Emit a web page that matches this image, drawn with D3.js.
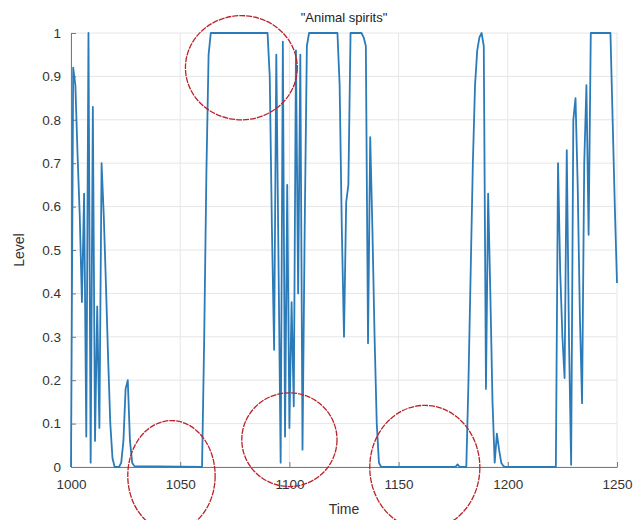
<!DOCTYPE html>
<html><head><meta charset="utf-8">
<script src="https://cdn.jsdelivr.net/npm/d3@7"></script>
<style>body{margin:0;background:#fff}svg{display:block}</style>
</head><body>
<svg id="c" width="638" height="520"></svg>
<script>
const times  = [1000,1001,1002,1003,1004,1005,1006,1007,1008,1009,1010,1011,1012,1013,1014,1015,1016,1017,1018,1019,1020,1021,1022,1023,1024,1025,1026,1027,1028,1029,
  1060,1061,1062,1063,1064,1090,1091,1092,1093,1094,1095,1096,1097,1098,1099,1100,1101,1102,1103,1104,1105,1106,1107,1108,1109,
  1122,1123,1124,1125,1126,1127,1128,1133,1134,1135,1136,1137,1138,1139,1140,1141,1142,
  1176,1177,1178,1181,1182,1183,1184,1185,1186,1187,1188,1189,1190,1191,1192,1193,1194,1195,1196,1197,1198,1199,
  1222,1223,1224,1225,1226,1227,1228,1229,1230,1231,1232,1233,1234,1235,1236,1237,1238,1247,1248,1249,1250];
const levels = [0.0,0.92,0.88,0.72,0.58,0.38,0.63,0.07,1.0,0.01,0.83,0.06,0.37,0.09,0.70,0.58,0.42,0.25,0.10,0.02,0.0,0.0,0.0,0.01,0.06,0.18,0.20,0.06,0.01,0.002,
  0.0,0.3,0.68,0.95,1.0,1.0,0.9,0.55,0.27,0.95,0.48,0.01,0.98,0.07,0.65,0.09,0.38,0.14,0.96,0.40,0.95,0.04,0.55,0.97,1.0,
  1.0,0.88,0.55,0.30,0.61,0.65,1.0,1.0,0.99,0.97,0.285,0.76,0.55,0.3,0.1,0.01,0.0,
  0.0,0.006,0.0,0.0,0.2,0.45,0.7,0.88,0.96,0.99,1.0,0.97,0.18,0.63,0.4,0.15,0.01,0.077,0.04,0.01,0.002,0.0,
  0.0,0.70,0.45,0.3,0.205,0.73,0.3,0.005,0.8,0.85,0.65,0.35,0.147,0.7,0.88,0.535,1.0,1.0,0.8,0.6,0.424];
const xTicks = [1000,1050,1100,1150,1200,1250];
const yTicks = [0,0.1,0.2,0.3,0.4,0.5,0.6,0.7,0.8,0.9,1];
const titleText = '"Animal spirits"';
const xLabel = "Time", yLabel = "Level";
// annotation ellipses: [center time, center level, rx(time units), ry(level units)]
const circleT  = [1078, 1046, 1100, 1162];
const circleL  = [0.92, -0.02, 0.063, -0.001];
const circleRT = [25.6, 20, 21.8, 25.2];
const circleRL = [0.12, 0.127, 0.108, 0.143];

const svg = d3.select("#c");
const m = {l:71, r:617, t:33, b:467};
const x = d3.scaleLinear().domain([1000,1250]).range([m.l,m.r]);
const y = d3.scaleLinear().domain([0,1]).range([m.b,m.t]);
const font = "'Liberation Sans', Arial, Helvetica, sans-serif";

// grid
const g = svg.append("g");
g.selectAll(".gx").data(xTicks).join("line")
  .attr("x1",d=>x(d)).attr("x2",d=>x(d)).attr("y1",m.t).attr("y2",m.b)
  .attr("stroke","#e6e6e6").attr("stroke-width",1);
g.selectAll(".gy").data(yTicks).join("line")
  .attr("y1",d=>y(d)).attr("y2",d=>y(d)).attr("x1",m.l).attr("x2",m.r)
  .attr("stroke","#e6e6e6").attr("stroke-width",1);

// axes
const xa = svg.append("g").attr("transform",`translate(0,${m.b})`)
  .call(d3.axisBottom(x).tickValues(xTicks).tickFormat(d3.format("d")).tickSizeInner(-5).tickSizeOuter(0).tickPadding(12));
const ya = svg.append("g").attr("transform",`translate(${m.l},0)`)
  .call(d3.axisLeft(y).tickValues(yTicks).tickFormat(d=>d3.format("")(d)).tickSizeInner(-5).tickSizeOuter(0).tickPadding(10));
[xa,ya].forEach(a=>{
  a.select(".domain").attr("stroke","#7a7a7a");
  a.selectAll(".tick line").attr("stroke","#7a7a7a");
  a.selectAll(".tick text").attr("fill","#333").style("font-family",font).style("font-size","13.5px");
});

// line
const line = d3.line().x((d,i)=>x(times[i])).y(d=>y(d));
svg.append("path").datum(levels).attr("d",line)
  .attr("fill","none").attr("stroke","#2c7bb9").attr("stroke-width",1.8).attr("stroke-linejoin","round");

// texts
svg.append("text").attr("x",(m.l+m.r)/2).attr("y",22).attr("text-anchor","middle")
  .style("font-family",font).style("font-size","13px").attr("fill","#222").text(titleText);
svg.append("text").attr("x",(m.l+m.r)/2).attr("y",514).attr("text-anchor","middle")
  .style("font-family",font).style("font-size","14px").attr("fill","#333").text(xLabel);
svg.append("text").attr("transform",`translate(24,${(m.t+m.b)/2}) rotate(-90)`).attr("text-anchor","middle")
  .style("font-family",font).style("font-size","14px").attr("fill","#333").text(yLabel);

// red annotation ellipses
svg.selectAll(".ell").data(circleT).join("ellipse")
  .attr("cx",(d)=>x(d)).attr("cy",(d,i)=>y(circleL[i]))
  .attr("rx",(d,i)=>x(1000+circleRT[i])-x(1000)).attr("ry",(d,i)=>y(0)-y(circleRL[i]))
  .attr("fill","none").attr("stroke","#b9232c").attr("stroke-width",1.3).attr("stroke-dasharray","6,1");
</script>
</body></html>
